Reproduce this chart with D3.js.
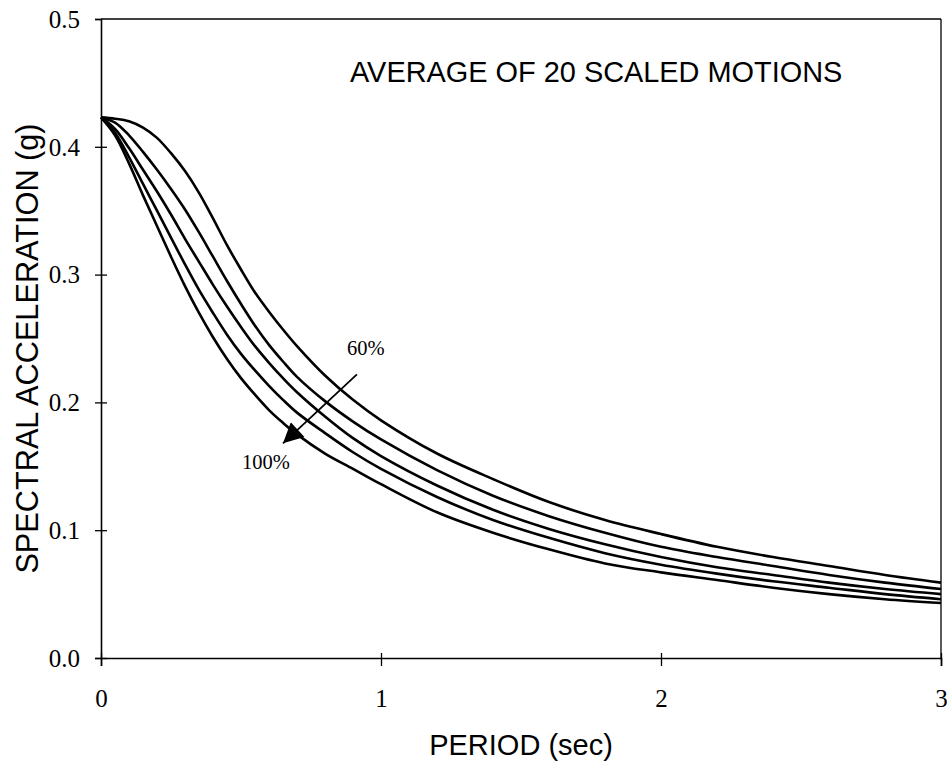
<!DOCTYPE html>
<html>
<head>
<meta charset="utf-8">
<script src="https://cdn.jsdelivr.net/npm/d3@7"></script>
<style>
  html, body { margin: 0; padding: 0; background: #fff; }
  svg { display: block; }
</style>
</head>
<body>
<svg id="chart" width="947" height="770"></svg>
<script>
// ---- data ----
const periods = [0, 0.05, 0.1, 0.15, 0.2, 0.25, 0.3, 0.35, 0.4, 0.45, 0.5, 0.55, 0.6, 0.65, 0.7, 0.8, 0.9, 1.0, 1.2, 1.4, 1.6, 1.8, 2.0, 2.2, 2.4, 2.6, 2.8, 3.0];
const sa60  = [0.423, 0.422, 0.420, 0.415, 0.407, 0.395, 0.381, 0.364, 0.344, 0.323, 0.304, 0.286, 0.271, 0.257, 0.244, 0.221, 0.202, 0.186, 0.160, 0.140, 0.122, 0.108, 0.097, 0.087, 0.079, 0.072, 0.065, 0.059];
const sa70  = [0.423, 0.419, 0.409, 0.396, 0.382, 0.367, 0.351, 0.333, 0.314, 0.295, 0.277, 0.260, 0.245, 0.232, 0.220, 0.201, 0.185, 0.171, 0.147, 0.127, 0.111, 0.098, 0.087, 0.079, 0.072, 0.065, 0.059, 0.054];
const sa80  = [0.423, 0.414, 0.399, 0.382, 0.365, 0.347, 0.328, 0.310, 0.292, 0.275, 0.259, 0.244, 0.231, 0.219, 0.208, 0.189, 0.172, 0.158, 0.135, 0.116, 0.101, 0.089, 0.079, 0.071, 0.065, 0.059, 0.054, 0.050];
const sa90  = [0.423, 0.411, 0.392, 0.371, 0.350, 0.329, 0.308, 0.288, 0.270, 0.253, 0.238, 0.225, 0.213, 0.202, 0.192, 0.176, 0.161, 0.148, 0.126, 0.108, 0.094, 0.082, 0.073, 0.066, 0.060, 0.055, 0.050, 0.046];
const sa100 = [0.423, 0.409, 0.387, 0.362, 0.338, 0.314, 0.291, 0.270, 0.251, 0.234, 0.219, 0.206, 0.194, 0.184, 0.175, 0.160, 0.148, 0.136, 0.114, 0.098, 0.085, 0.074, 0.067, 0.061, 0.055, 0.050, 0.046, 0.043];
const seriesNames = ["60%", "70%", "80%", "90%", "100%"];
const xTicks = [0, 1, 2, 3];
const yTicks = [0.0, 0.1, 0.2, 0.3, 0.4, 0.5];
const titleText = "AVERAGE OF 20 SCALED MOTIONS";
const xLabel = "PERIOD (sec)";
const yLabel = "SPECTRAL ACCELERATION (g)";
// arrow annotation (period, SA): from -> to
const arrowFrom = [0.914, 0.222];
const arrowTo = [0.650, 0.168];
const label60Pos = [0.879, 0.237];
const label100Pos = [0.504, 0.148];

// ---- chart ----
const svg = d3.select("#chart");
const x = d3.scaleLinear().domain([0, 3]).range([101, 941]);
const y = d3.scaleLinear().domain([0, 0.5]).range([658, 19]);

// frame (top and right)
svg.append("line").attr("x1", x(0)).attr("x2", x(3)).attr("y1", y(0.5)).attr("y2", y(0.5))
  .attr("stroke", "#000").attr("stroke-width", 1.3);
svg.append("line").attr("x1", x(3)).attr("x2", x(3)).attr("y1", y(0.5)).attr("y2", y(0))
  .attr("stroke", "#000").attr("stroke-width", 1.3);

const serif = "'Liberation Serif', 'Times New Roman', serif";
const sans = "'Liberation Sans', Arial, sans-serif";

// x axis
const gx = svg.append("g").attr("transform", `translate(0,${y(0)})`)
  .call(d3.axisBottom(x).tickValues(xTicks).tickFormat(d3.format("d")).tickSize(8).tickPadding(0));
gx.select(".domain").attr("stroke-width", 1.6);
gx.selectAll(".tick line").attr("y1", -5).attr("y2", 8).attr("stroke-width", 1.3);
gx.selectAll(".tick text").attr("y", 49).attr("dy", 0)
  .attr("font-family", serif).attr("font-size", 25).attr("fill", "#000");

// y axis
const gy = svg.append("g").attr("transform", `translate(${x(0)},0)`)
  .call(d3.axisLeft(y).tickValues(yTicks).tickFormat(d3.format(".1f")).tickSize(6).tickPadding(0));
gy.select(".domain").attr("stroke-width", 1.6);
gy.selectAll(".tick line").attr("x1", 6).attr("x2", -6).attr("stroke-width", 1.3);
gy.selectAll(".tick text").attr("x", -21).attr("dy", "0.33em")
  .attr("font-family", serif).attr("font-size", 25).attr("fill", "#000");
gy.selectAll(".tick").filter(d => d === 0.5).select("line").attr("x1", 0);

// curves
const allSeries = [sa60, sa70, sa80, sa90, sa100];
const line = d3.line()
  .x((d, i) => x(periods[i]))
  .y(d => y(d))
  .curve(d3.curveCatmullRom.alpha(0.5));
svg.append("g").selectAll("path").data(allSeries).join("path")
  .attr("d", d => line(d))
  .attr("fill", "none").attr("stroke", "#000").attr("stroke-width", 2.6)
  .attr("stroke-linejoin", "round");

// arrow
const defs = svg.append("defs");
defs.append("marker").attr("id", "head")
  .attr("viewBox", "0 0 10 10").attr("refX", 10).attr("refY", 5)
  .attr("markerUnits", "userSpaceOnUse")
  .attr("markerWidth", 26).attr("markerHeight", 20).attr("orient", "auto")
  .append("path").attr("d", "M0,0 L10,5 L0,10 Z").attr("fill", "#000");
svg.append("line")
  .attr("x1", x(arrowFrom[0])).attr("y1", y(arrowFrom[1]))
  .attr("x2", x(arrowTo[0])).attr("y2", y(arrowTo[1]))
  .attr("stroke", "#000").attr("stroke-width", 1.8)
  .attr("marker-end", "url(#head)");

svg.append("text").attr("x", x(label60Pos[0])).attr("y", y(label60Pos[1]))
  .attr("font-family", serif).attr("font-size", 20.5).text(seriesNames[0]);
svg.append("text").attr("x", x(label100Pos[0])).attr("y", y(label100Pos[1]))
  .attr("font-family", serif).attr("font-size", 20.5).text(seriesNames[4]);

// title
svg.append("text").attr("x", 350).attr("y", 82)
  .attr("font-family", sans).attr("font-size", 28.9).text(titleText);

// axis labels
svg.append("text").attr("x", (x(0) + x(3)) / 2).attr("y", 755)
  .attr("text-anchor", "middle").attr("font-family", sans).attr("font-size", 29).text(xLabel);
svg.append("text").attr("transform", `translate(38,${(y(0) + y(0.5)) / 2 + 10}) rotate(-90)`)
  .attr("text-anchor", "middle").attr("font-family", sans).attr("font-size", 30.7).text(yLabel);
</script>
</body>
</html>
